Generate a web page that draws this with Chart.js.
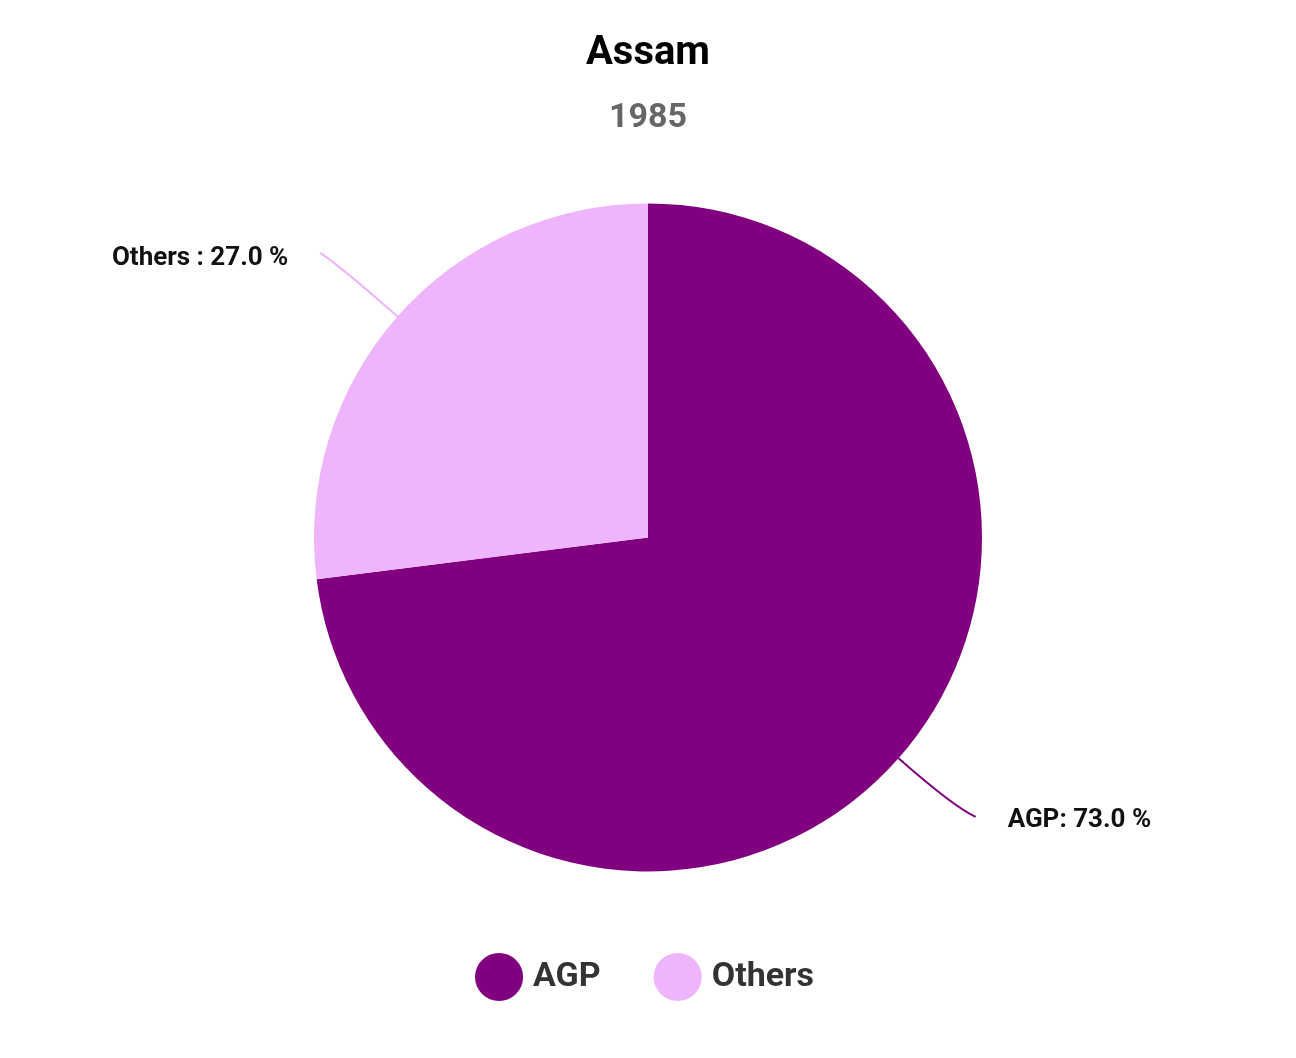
<!DOCTYPE html>
<html><head><meta charset="utf-8">
<script src="https://cdn.jsdelivr.net/npm/chart.js@4"></script>
<style>html,body{margin:0;padding:0;background:#fff}#w{width:1296px;height:1058px}</style>
</head><body><div id="w"><canvas id="c"></canvas></div>
<script>
const categories = ["AGP", "Others"];
const values = [73.0, 27.0];
const colors = ["#800080", "#EEB4FC"];
const labelTexts = ["AGP: 73.0 %", "Others : 27.0 %"];

const leaderPlugin = {
  id: 'leader',
  afterDatasetsDraw(chart) {
    const ctx = chart.ctx;
    const meta = chart.getDatasetMeta(0);
    meta.data.forEach((arc, i) => {
      const mid = (arc.startAngle + arc.endAngle) / 2;
      const r = arc.outerRadius;
      const cx = arc.x, cy = arc.y;
      const c = Math.cos(mid), s = Math.sin(mid);
      const xc = cx + c * r * 1.22, yc = cy + s * r * 1.22;
      const right = c >= 0;
      const xe = xc + (right ? 1 : -1) * 22, ye = yc + (s>0?10:-15);
      ctx.save();
      ctx.strokeStyle = colors[i];
      ctx.lineWidth = 2;
      ctx.beginPath();
      ctx.moveTo(cx + c * r, cy + s * r);
      ctx.quadraticCurveTo(xc, yc, xe, ye);
      ctx.stroke();
      ctx.fillStyle = '#111';
      ctx.font = 'bold 26px Roboto';
      ctx.textBaseline = 'middle';
      ctx.textAlign = right ? 'left' : 'right';
      ctx.fillText(labelTexts[i], xe + (right ? 32 : -32), ye + (right?4:6));
      ctx.restore();
    });
  }
};

new Chart(document.getElementById('c'), {
  type: 'pie',
  data: { labels: categories, datasets: [{ data: values, backgroundColor: colors, borderWidth: 0, radius: 334 }] },
  options: {
    responsive: true, maintainAspectRatio: false, animation: false,
    layout: { padding: { top: 30, bottom: 54 } },
    plugins: {
      title: { display: true, text: 'Assam', color: '#000', font: { family: 'Roboto', size: 40, weight: 'bold' }, padding: { top: 0, bottom: 20 } },
      subtitle: { display: true, text: '1985', color: '#666', font: { family: 'Roboto', size: 34, weight: 'bold' }, padding: { bottom: 36 } },
      legend: { position: 'bottom', labels: { usePointStyle: true, pointStyle: 'circle', boxWidth: 36, boxHeight: 36, padding: 60, color: '#333', font: { family: 'Roboto', size: 34, weight: 'bold' } } },
      tooltip: { enabled: false }
    }
  },
  plugins: [leaderPlugin]
});
</script></body></html>
